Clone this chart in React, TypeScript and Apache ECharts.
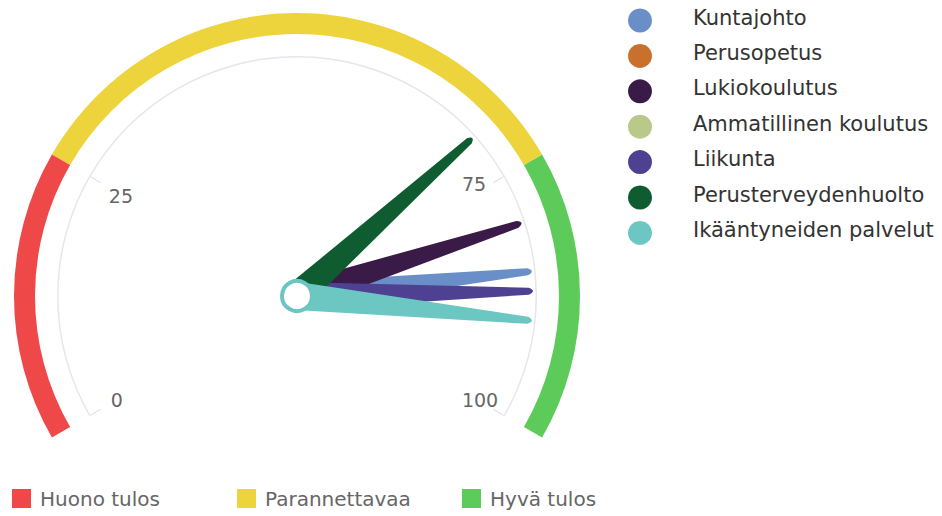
import React, { useEffect, useRef } from "react";
import * as echarts from "echarts";

const categories = [
  "Kuntajohto",
  "Perusopetus",
  "Lukiokoulutus",
  "Ammatillinen koulutus",
  "Liikunta",
  "Perusterveydenhuolto",
  "Ikääntyneiden palvelut",
];
const values: (number | null)[] = [85, null, 80, null, 87, 70, 90];
const seriesColors = ["#6a8fc8", "#c9702f", "#3a1a46", "#b8c98a", "#4f4192", "#0f5c30", "#6cc7c3"];

const bandNames = ["Huono tulos", "Parannettavaa", "Hyvä tulos"];
const bandLimits = [25, 75, 100];
const bandColors = ["#ef4848", "#eed43c", "#5ccb5a"];

const axisMin = 0;
const axisMax = 100;
// tick label groups (ranges of the axis that carry ticks and labels)
const tickRanges = [
  [0, 25],
  [75, 100],
];

const FONT = "DejaVu Sans";
const CX = 297;
const CY = 296;
const START = 210;
const END = -30;

// fine label nudges: [top, right, bottom, left] padding
const labelPadding: Record<string, number[]> = {
  "0": [0, 0, 8, 0],
  "25": [14, 0, 0, -2],
  "75": [0, -3, 10, 0],
  "100": [0, -15, 8, 0],
};

function angleOf(v: number) {
  return START - ((v - axisMin) / (axisMax - axisMin)) * (START - END);
}

export default function App() {
  const ref = useRef<HTMLDivElement>(null);
  useEffect(() => {
    if (!ref.current) return;
    const chart = echarts.init(ref.current, undefined, { renderer: "svg" });

    const pointerData = categories
      .map((name, i) => ({ name, value: values[i], color: seriesColors[i] }))
      .filter((d) => d.value !== null)
      .map((d) => ({
        name: d.name,
        value: d.value as number,
        itemStyle: { color: d.color },
      }));

    const legendGraphics: any[] = [];
    categories.forEach((name, i) => {
      const y = 20.5 + i * 35.4;
      legendGraphics.push({
        type: "circle",
        shape: { cx: 640, cy: y, r: 12 },
        style: { fill: seriesColors[i] },
      });
      legendGraphics.push({
        type: "text",
        x: 693,
        y: y - 3,
        style: {
          text: name,
          fill: "#333",
          font: `21px "${FONT}"`,
          textVerticalAlign: "middle",
          textAlign: "left",
        },
      });
    });
    const bandX = [12, 237, 462];
    bandNames.forEach((name, i) => {
      legendGraphics.push({
        type: "rect",
        shape: { x: bandX[i], y: 489, width: 19, height: 19 },
        style: { fill: bandColors[i] },
      });
      legendGraphics.push({
        type: "text",
        x: bandX[i] + 28,
        y: 498.5,
        style: {
          text: name,
          fill: "#666",
          font: `20px "${FONT}"`,
          textVerticalAlign: "middle",
          textAlign: "left",
        },
      });
    });

    const rich: Record<string, any> = {};
    Object.keys(labelPadding).forEach((k) => {
      rich["t" + k] = {
        color: "#666",
        fontSize: 19,
        fontFamily: FONT,
        padding: labelPadding[k],
      };
    });

    const tickSeries = tickRanges.map(([lo, hi]) => ({
      type: "gauge",
      center: [CX, CY],
      radius: 240,
      startAngle: angleOf(lo),
      endAngle: angleOf(hi),
      min: lo,
      max: hi,
      splitNumber: 1,
      axisLine: { show: false, lineStyle: { width: 1.5 } },
      axisTick: { show: false },
      splitLine: {
        show: true,
        distance: 0,
        length: 12,
        lineStyle: { color: "#dcdcdc", width: 1 },
      },
      axisLabel: {
        show: true,
        distance: 13,
        color: "#666",
        fontSize: 19,
        fontFamily: FONT,
        formatter: (v: number) => `{t${v}|${v}}`,
        rich,
      },
      pointer: { show: false },
      anchor: { show: false },
      title: { show: false },
      detail: { show: false },
      data: [],
    }));

    chart.setOption({
      animation: false,
      graphic: legendGraphics,
      series: [
        {
          type: "gauge",
          center: [CX, CY],
          radius: 283,
          startAngle: START,
          endAngle: END,
          min: axisMin,
          max: axisMax,
          axisLine: {
            lineStyle: {
              width: 21,
              color: bandLimits.map((l, i) => [(l - axisMin) / (axisMax - axisMin), bandColors[i]]),
            },
          },
          axisTick: { show: false },
          splitLine: { show: false },
          axisLabel: { show: false },
          pointer: { show: false },
          anchor: { show: false },
          title: { show: false },
          detail: { show: false },
          data: [],
        },
        ...tickSeries,
        {
          type: "gauge",
          center: [CX, CY],
          radius: 240,
          startAngle: START,
          endAngle: END,
          min: axisMin,
          max: axisMax,
          axisLine: {
            lineStyle: { width: 1.5, color: [[1, "#e6e6ec"]] },
          },
          axisTick: { show: false },
          splitLine: { show: false },
          axisLabel: { show: false },
          pointer: {
            show: true,
            icon: "path://M0,100 L10.5,2 Q14,-1.5 17.5,2 L28,100 Z",
            width: 28,
            length: 236,
            offsetCenter: [0, 0],
          },
          anchor: {
            show: true,
            showAbove: true,
            size: 30,
            itemStyle: { color: "#fff", borderColor: "#6cc5c1", borderWidth: 4 },
          },
          title: { show: false },
          detail: { show: false },
          data: pointerData,
        },
      ],
    });
    return () => chart.dispose();
  }, []);
  return (
    <div
      ref={ref}
      style={{ position: "fixed", left: 0, top: 0, width: 942, height: 516, background: "#fff" }}
    />
  );
}
